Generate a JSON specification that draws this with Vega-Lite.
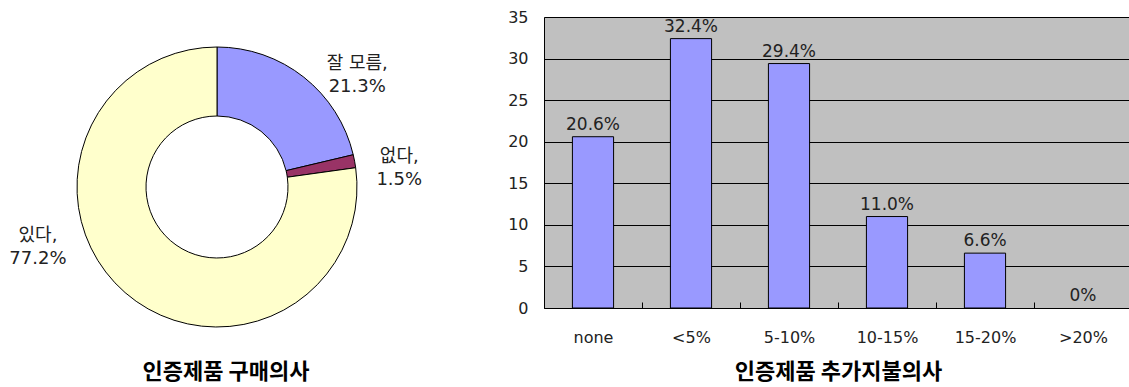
{
  "$schema": "https://vega.github.io/schema/vega-lite/v6.json",
  "padding": {"left": 0, "top": 9, "right": 0, "bottom": 0},
  "background": "white",
  "spacing": 73,
  "config": {
    "view": {"stroke": null},
    "font": "DejaVu Sans, Noto Sans CJK KR"
  },
  "hconcat": [
    {
      "width": 434,
      "height": 340,
      "data": {
        "values": [
          {"answer": "잘 모름", "pct": 21.3, "ord": 1},
          {"answer": "없다", "pct": 1.5, "ord": 2},
          {"answer": "있다", "pct": 77.2, "ord": 3}
        ]
      },
      "transform": [
        {"calculate": "datum.answer + ',\\n' + datum.pct + '%'", "as": "lab"},
        {"stack": "pct", "groupby": [], "sort": [{"field": "ord", "order": "ascending"}], "as": ["s0", "s1"]},
        {"calculate": "(datum.s0 + datum.s1) / 2", "as": "mid"}
      ],
      "title": {
        "text": "인증제품 구매의사",
        "orient": "bottom",
        "offset": 5,
        "dx": 9,
        "fontSize": 22,
        "fontWeight": "bold",
        "font": "Noto Sans CJK KR",
        "color": "black",
        "anchor": "middle"
      },
      "layer": [
        {
          "mark": {"type": "arc", "innerRadius": 71, "outerRadius": 140, "stroke": "black", "strokeWidth": 1},
          "encoding": {
            "theta": {"field": "s0", "type": "quantitative", "stack": null, "scale": {"domain": [0, 100]}},
            "theta2": {"field": "s1"},
            "color": {
              "field": "answer",
              "type": "nominal",
              "scale": {"domain": ["잘 모름", "없다", "있다"], "range": ["#9999FF", "#993366", "#FFFFCC"]},
              "legend": null
            }
          }
        },
        {
          "transform": [{"filter": "datum.answer === '잘 모름'"}],
          "mark": {"type": "text", "radius": 160, "dx": 41, "dy": 2, "fontSize": 18, "lineHeight": 23, "lineBreak": "\n", "color": "#222", "align": "center", "baseline": "middle"},
          "encoding": {
            "theta": {"field": "mid", "type": "quantitative", "stack": null},
            "text": {"field": "lab"}
          }
        },
        {
          "transform": [{"filter": "datum.answer === '없다'"}],
          "mark": {"type": "text", "radius": 160, "dx": 25, "dy": -1, "fontSize": 18, "lineHeight": 23, "lineBreak": "\n", "color": "#222", "align": "center", "baseline": "middle"},
          "encoding": {
            "theta": {"field": "mid", "type": "quantitative", "stack": null},
            "text": {"field": "lab"}
          }
        },
        {
          "transform": [{"filter": "datum.answer === '있다'"}],
          "mark": {"type": "text", "radius": 160, "dx": -74, "dy": -72, "fontSize": 18, "lineHeight": 23, "lineBreak": "\n", "color": "#222", "align": "center", "baseline": "middle"},
          "encoding": {
            "theta": {"field": "mid", "type": "quantitative", "stack": null},
            "text": {"field": "lab"}
          }
        }
      ]
    },
    {
      "width": 588,
      "height": 291,
      "view": {"fill": "#C0C0C0", "stroke": null},
      "data": {
        "values": [
          {"range": "none", "pct": 20.6},
          {"range": "<5%", "pct": 32.4},
          {"range": "5-10%", "pct": 29.4},
          {"range": "10-15%", "pct": 11.0},
          {"range": "15-20%", "pct": 6.6},
          {"range": ">20%", "pct": 0}
        ]
      },
      "transform": [
        {"calculate": "datum.pct === 0 ? '0%' : format(datum.pct, '.1f') + '%'", "as": "lab"}
      ],
      "encoding": {
        "x": {
          "field": "range",
          "type": "nominal",
          "sort": null,
          "scale": {"paddingInner": 0, "paddingOuter": 0},
          "axis": {
            "title": "인증제품 추가지불의사",
            "titleFont": "Noto Sans CJK KR",
            "titleFontSize": 22,
            "titleFontWeight": "bold",
            "titleColor": "black",
            "titlePadding": 16,
            "labelAngle": 0,
            "labelFontSize": 16,
            "labelColor": "#222",
            "labelPadding": 27,
            "tickBand": "extent",
            "tickSize": -6,
            "tickColor": "black",
            "domainColor": "black",
            "grid": false
          }
        },
        "y": {
          "field": "pct",
          "type": "quantitative",
          "scale": {"domain": [0, 35]},
          "axis": {
            "title": null,
            "values": [0, 5, 10, 15, 20, 25, 30, 35],
            "grid": true,
            "gridColor": "black",
            "gridOpacity": 1,
            "gridWidth": 1,
            "ticks": false,
            "domainColor": "black",
            "labelFontSize": 16,
            "labelColor": "#222",
            "labelPadding": 16
          }
        }
      },
      "layer": [
        {
          "transform": [{"filter": "datum.pct > 0"}],
          "mark": {"type": "bar", "width": {"band": 0.42}, "fill": "#9999FF", "stroke": "black", "strokeWidth": 1}
        },
        {
          "mark": {"type": "text", "baseline": "alphabetic", "dy": -7, "fontSize": 17, "color": "#222"},
          "encoding": {"text": {"field": "lab"}}
        }
      ]
    }
  ]
}
